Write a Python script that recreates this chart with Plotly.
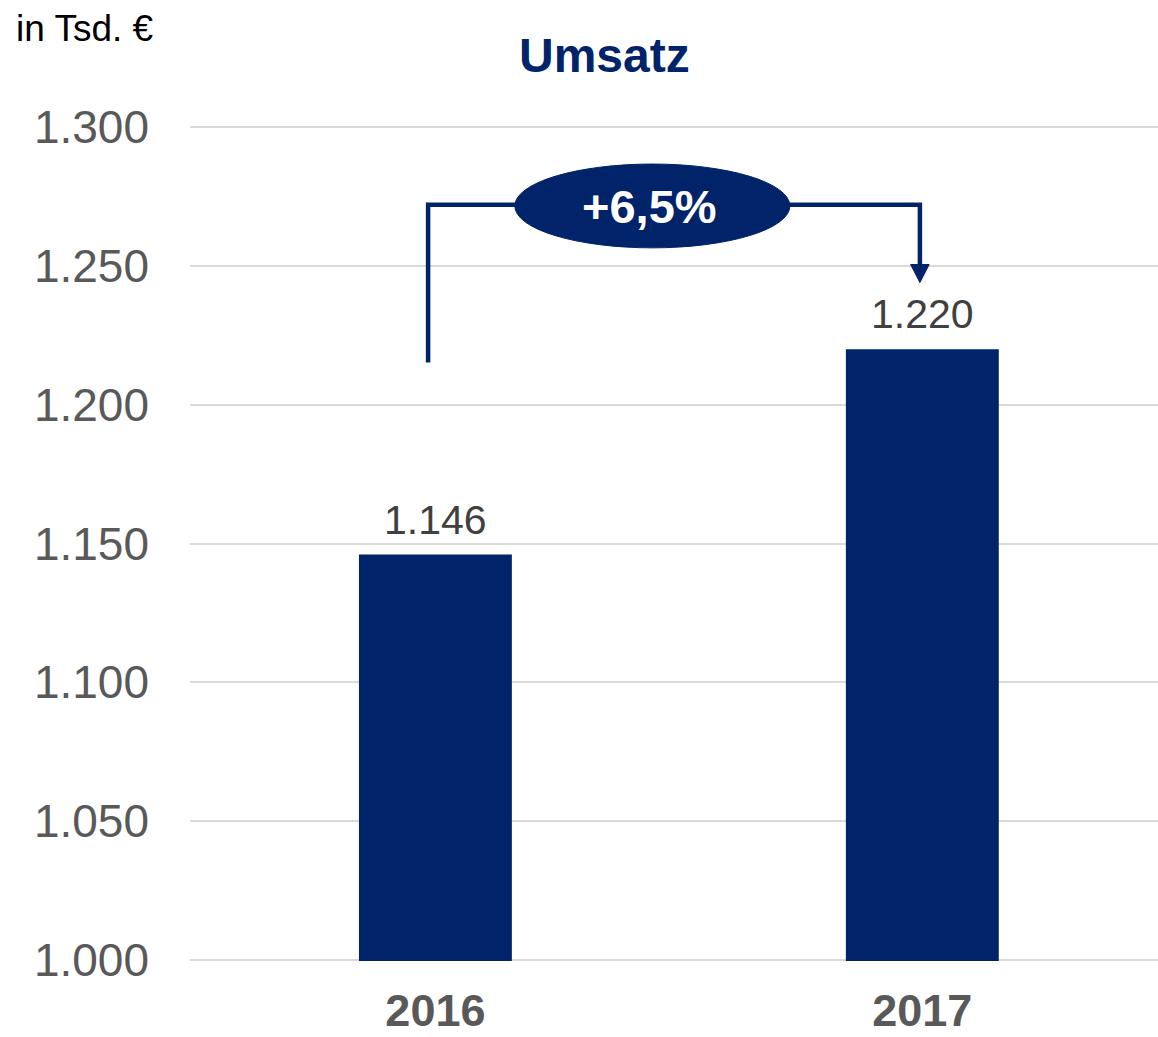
import plotly.graph_objects as go

years = ["2016", "2017"]
umsatz = [1146, 1220]
value_labels = ["1.146", "1.220"]
y_ticks = [1000, 1050, 1100, 1150, 1200, 1250, 1300]
y_tick_labels = ["1.000", "1.050", "1.100", "1.150", "1.200", "1.250", "1.300"]
growth_label = "+6,5%"
title_text = "Umsatz"
unit_text = "in Tsd. €"

NAVY = "#002369"
FONT = "Liberation Sans, Arial, sans-serif"

fig = go.Figure()
fig.add_trace(go.Bar(
    x=[0, 1], y=umsatz, width=0.314, marker_color=NAVY,
    marker_line_width=0, hoverinfo="skip",
))

# value labels
for i, (v, lab) in enumerate(zip(umsatz, value_labels)):
    fig.add_annotation(x=i, y=v, xref="x", yref="y", text=lab, showarrow=False,
                       yanchor="middle", yshift=35,
                       font=dict(family=FONT, size=41, color="#404040"))

# bracket
lw = 4.5
xl, xr = -0.015, 0.995
ytop, ybot, ytip = 1272, 1215.2, 1244
fig.add_shape(type="path", xref="x", yref="y",
              path=f"M {xl},{ybot} L {xl},{ytop} L {xr},{ytop} L {xr},{1250}",
              line=dict(color=NAVY, width=lw), layer="above")
fig.add_shape(type="path", xref="x", yref="y",
              path=f"M {xr-0.019},{1250.5} L {xr+0.019},{1250.5} L {xr},{ytip} Z",
              fillcolor=NAVY, line=dict(color=NAVY, width=1), layer="above")
# ellipse
fig.add_shape(type="circle", xref="x", yref="y", x0=0.163, x1=0.728,
              y0=1256.5, y1=1286.7, fillcolor=NAVY, line=dict(color=NAVY, width=1),
              layer="above")
fig.add_annotation(x=0.44, y=1271.3, xref="x", yref="y", text=f"<b>{growth_label}</b>",
                   showarrow=False, yanchor="middle",
                   font=dict(family=FONT, size=47, color="white"))

# title and unit
fig.add_annotation(x=0.4287, y=1.085, xref="paper", yref="paper", text=f"<b>{title_text}</b>",
                   showarrow=False, xanchor="center", yanchor="middle",
                   font=dict(family=FONT, size=48, color=NAVY))
fig.add_annotation(x=-0.1818, y=1.117, xref="paper", yref="paper", text=unit_text,
                   showarrow=False, xanchor="left", yanchor="middle",
                   font=dict(family=FONT, size=37, color="black"))

fig.update_layout(
    width=1158, height=1037,
    margin=dict(l=190, r=0, t=126, b=76, autoexpand=False),
    plot_bgcolor="white", paper_bgcolor="white",
    showlegend=False,
    font=dict(family=FONT),
)
fig.update_xaxes(
    tickmode="array", tickvals=[0, 1], ticktext=[f"<b>{y}</b>" for y in years],
    range=[-0.504, 1.484], showgrid=False, zeroline=False, showline=False,
    tickfont=dict(family=FONT, size=45, color="#595959"), ticks="",
    ticklabelstandoff=19, automargin=False,
)
fig.update_yaxes(
    range=[999.6, 1300.4], tickmode="array", tickvals=y_ticks, ticktext=y_tick_labels,
    showgrid=True, gridcolor="#d9d9d9", gridwidth=1.5, zeroline=False, showline=False,
    tickfont=dict(family=FONT, size=46, color="#595959"), ticks="",
    ticklabelstandoff=40, automargin=False,
)

fig.write_html("out.html", config={"displayModeBar": False},
               post_script="document.body.style.margin='0';document.body.style.overflow='hidden';")
